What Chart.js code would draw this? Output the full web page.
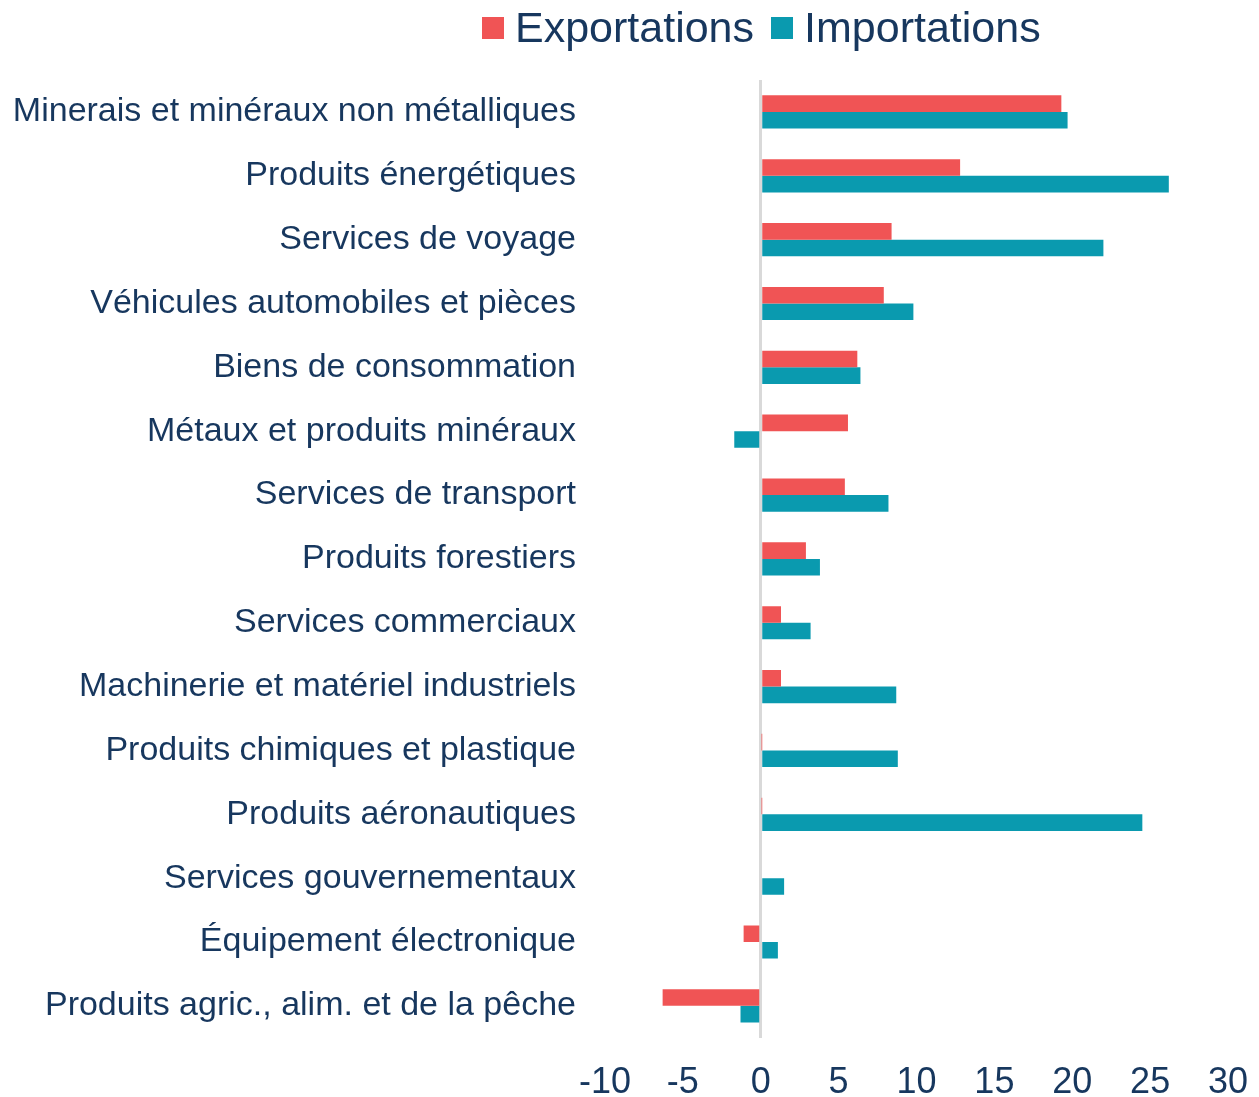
<!DOCTYPE html>
<html lang="fr">
<head>
<meta charset="utf-8">
<script src="https://cdn.jsdelivr.net/npm/chart.js@4"></script>
<style>
  html,body{margin:0;padding:0;background:#fff;overflow:hidden;}
  #wrap{position:relative;width:1259px;height:1097px;}
  #legend{position:absolute;top:0;left:482px;height:55px;display:flex;align-items:center;
    font-family:"Liberation Sans",Arial,sans-serif;font-size:43px;color:#17375E;white-space:nowrap;}
  #legend span.box{display:inline-block;width:22px;height:22px;margin-right:11px;}
  #legend span.item{display:flex;align-items:center;margin-right:17px;}
</style>
</head>
<body>
<div id="wrap">
  <canvas id="chart" width="1259" height="1097"></canvas>
  <div id="legend"></div>
</div>
<script>
/* ===== Data ===== */
const CATEGORIES = [
  'Minerais et minéraux non métalliques',
  'Produits énergétiques',
  'Services de voyage',
  'Véhicules automobiles et pièces',
  'Biens de consommation',
  'Métaux et produits minéraux',
  'Services de transport',
  'Produits forestiers',
  'Services commerciaux',
  'Machinerie et matériel industriels',
  'Produits chimiques et plastique',
  'Produits aéronautiques',
  'Services gouvernementaux',
  'Équipement électronique',
  'Produits agric., alim. et de la pêche',
];

const exportations = [19.3, 12.8, 8.4, 7.9, 6.2, 5.6, 5.4, 2.9, 1.3, 1.3, 0.05, 0.05, 0, -1.1, -6.3];
const importations = [19.7, 26.2, 22.0, 9.8, 6.4, -1.7, 8.2, 3.8, 3.2, 8.7, 8.8, 24.5, 1.5, 1.1, -1.3];

const X_MIN = -10, X_MAX = 30, X_STEP = 5;

const RED = '#F05455';
const TEAL = '#0A9AAF';
const INK = '#17375E';
const FONT = '"Liberation Sans", Arial, sans-serif';

/* ===== Chart ===== */
const ctx = document.getElementById('chart').getContext('2d');
const chart = new Chart(ctx, {
  type:'bar',
  data:{
    labels:CATEGORIES,
    datasets:[
      {label:'Exportations', data:exportations, backgroundColor:RED,  categoryPercentage:.52, barPercentage:1},
      {label:'Importations', data:importations, backgroundColor:TEAL, categoryPercentage:.52, barPercentage:1},
    ]
  },
  options:{
    indexAxis:'y',
    responsive:false,
    animation:false,
    layout:{padding:{top:80, left:0, right:0, bottom:-32}},
    plugins:{legend:{display:false}, tooltip:{enabled:false}},
    scales:{
      x:{
        min:X_MIN, max:X_MAX,
        border:{display:false},
        grid:{drawTicks:false, lineWidth:3, color:c => c.tick && c.tick.value === 0 ? '#D9D9D9' : 'transparent'},
        ticks:{stepSize:X_STEP, padding:24, color:INK, font:{family:FONT, size:36}},
        // leave only room for half of the "30" label on the right
        afterFit(scale){ scale.paddingRight = 31; }
      },
      y:{
        border:{display:false},
        grid:{display:false, drawTicks:false},
        ticks:{padding:29, color:INK, font:{family:FONT, size:34}},
        // fixed width so the plot starts where the original does
        afterFit(scale){ scale.width = 605; }
      }
    }
  }
});

/* ===== Legend ===== */
document.getElementById('legend').innerHTML = chart.data.datasets.map(d =>
  `<span class="item"><span class="box" style="background:${d.backgroundColor}"></span>${d.label}</span>`
).join('');
</script>
</body>
</html>
